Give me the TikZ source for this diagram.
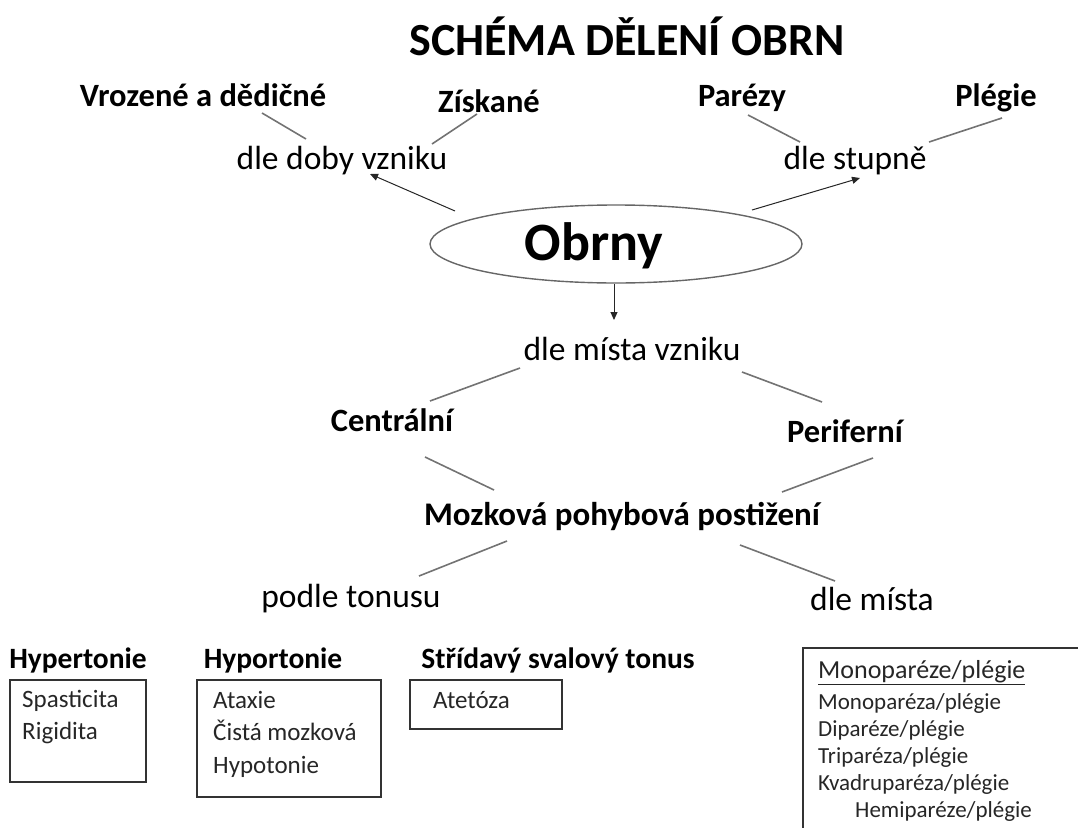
\documentclass[tikz,border=0pt]{standalone}
\usepackage{fontspec}
\setmainfont{Carlito}
\usetikzlibrary{shapes.geometric,arrows.meta}
\begin{document}
\begin{tikzpicture}[x=1pt,y=-1pt,
  lbl/.style={inner sep=0pt,anchor=base,font=\fontsize{33.5}{38}\selectfont},
  blbl/.style={inner sep=0pt,anchor=base,font=\fontsize{32.5}{36}\selectfont\bfseries},
  hdr/.style={inner sep=0pt,anchor=base,font=\fontsize{29.5}{34}\selectfont\bfseries},
  gline/.style={draw=black!55,line width=1.6pt},
  arr/.style={draw=black!85,line width=1pt,-{Triangle[length=8pt,width=7pt]}},
  boxtxt/.style={inner sep=0pt,anchor=north west,align=left,font=\fontsize{25}{32.5}\selectfont,text=black!85},
  bx/.style={draw=black!80,line width=1.5pt}]
\useasboundingbox (0,0) rectangle (1078,827);
\clip (0,0) rectangle (1078,827);

\node[inner sep=0pt,anchor=base,font=\fontsize{46}{52}\selectfont\bfseries] (title) at (627,55) {SCHÉMA DĚLENÍ OBRN};

\node[blbl] (vroz) at (203,106) {Vrozené a dědičné};
\node[blbl] (zisk) at (489,112) {Získané};
\node[blbl] (parez) at (742,106) {Parézy};
\node[blbl] (plegie) at (996,106) {Plégie};
\node[lbl] (doba) at (342,169) {dle doby vzniku};
\node[lbl] (stupen) at (855,169) {dle stupně};

\node[ellipse,draw=black!60,line width=1.4pt,minimum width=372pt,minimum height=78pt] (ell) at (616,244) {};
\node[inner sep=0pt,anchor=base,font=\fontsize{54}{60}\selectfont\bfseries] (obrny) at (594,260) {Obrny};

\node[lbl] (misto) at (632,360) {dle místa vzniku};
\node[blbl] (centr) at (392,431) {Centrální};
\node[blbl] (perif) at (845,442) {Periferní};
\node[inner sep=0pt,anchor=base,font=\fontsize{33}{38}\selectfont\bfseries] (mozk) at (622,525) {Mozková pohybová postižení};
\node[lbl] (tonus) at (351,607) {podle tonusu};
\node[lbl] (dlemista) at (872,610) {dle místa};

% line end coordinates
\coordinate (a1) at (262,113); \coordinate (a2) at (306,139);
\coordinate (b1) at (477,114); \coordinate (b2) at (432,144);
\coordinate (c1) at (748,115); \coordinate (c2) at (800,142);
\coordinate (d1) at (1002,118); \coordinate (d2) at (929,142);
\coordinate (e1) at (520,368); \coordinate (e2) at (430,401);
\coordinate (f1) at (742,372); \coordinate (f2) at (822,402);
\coordinate (g1) at (425,457); \coordinate (g2) at (494,490);
\coordinate (h1) at (873,458); \coordinate (h2) at (782,492);
\coordinate (i1) at (507,541); \coordinate (i2) at (419,576);
\coordinate (j1) at (740,545); \coordinate (j2) at (835,581);
\coordinate (k1) at (455,211); \coordinate (k2) at (370,174);
\coordinate (m1) at (752,210); \coordinate (m2) at (860,178);
\coordinate (n1) at (614,284); \coordinate (n2) at (614,320);

\draw[gline] (a1) -- (a2);
\draw[gline] (b1) -- (b2);
\draw[gline] (c1) -- (c2);
\draw[gline] (d1) -- (d2);
\draw[gline] (e1) -- (e2);
\draw[gline] (f1) -- (f2);
\draw[gline] (g1) -- (g2);
\draw[gline] (h1) -- (h2);
\draw[gline] (i1) -- (i2);
\draw[gline] (j1) -- (j2);
\draw[arr] (k1) -- (k2);
\draw[arr] (m1) -- (m2);
\draw[arr] (n1) -- (n2);

% bottom groups
\node[hdr] (hyper) at (78,668) {Hypertonie};
\draw[bx] (10,680) rectangle (146,782);
\node[boxtxt] (hypert) at (22,690) {Spasticita\\Rigidita};

\node[hdr] (hypo) at (273,668) {Hyportonie};
\draw[bx] (197,680) rectangle (381,797);
\node[boxtxt] (hypot) at (213,691) {Ataxie\\Čistá mozková\\Hypotonie};

\node[hdr] (strid) at (558,668) {Střídavý svalový tonus};
\draw[bx] (410,680) rectangle (562,729);
\node[boxtxt] (stridt) at (433,691) {Atetóza};

\draw[bx] (803,840) -- (803,648) -- (1090,648);
\node[inner sep=0pt,anchor=north west,font=\fontsize{26}{30}\selectfont,text=black!85] (monoh) at (818,660) {\underline{Monoparéze/plégie}};
\node[inner sep=0pt,anchor=north west,align=left,font=\fontsize{23}{27}\selectfont,text=black!85] (monol) at (818,693)
  {Monoparéza/plégie\\Diparéze/plégie\\Triparéza/plégie\\Kvadruparéza/plégie\\\hspace*{37pt}Hemiparéze/plégie};
\end{tikzpicture}
\end{document}
